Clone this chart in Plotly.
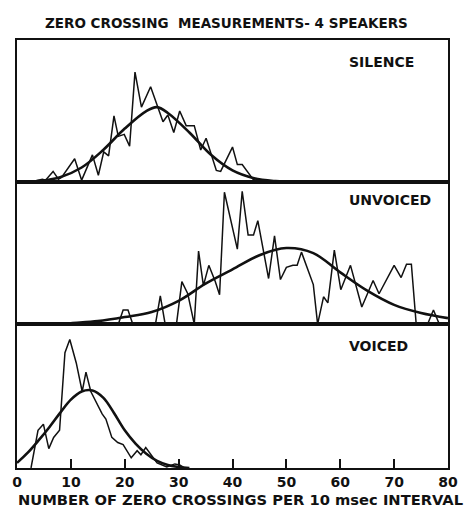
import plotly.graph_objects as go
from plotly.subplots import make_subplots

# Zero-crossing counts per 10 msec interval (relative frequency, arbitrary units)
silence_x = [2.5, 4.7, 5.3, 6.7, 7.7, 8.3, 10.7, 12.0, 14.0, 15.1, 16.1, 17.0, 18.0, 18.8,
             19.9, 20.9, 21.9, 23.1, 24.8, 27.1, 28.0, 29.1, 30.2, 31.4, 32.9, 34.1, 35.1,
             37.0, 37.8, 40.0, 40.9, 41.8, 43.8, 45.0]
silence_y = [0, 3, 2, 11, 3, 5, 24, 2, 28, 7, 31, 27, 68, 47,
             49, 37, 113, 77, 98, 62, 69, 51, 73, 58, 58, 33, 45,
             12, 11, 36, 18, 18, 3, 0]
silence_fit_x = [2, 4, 8, 12, 16, 20, 24, 26, 28, 32, 36, 40, 44, 48, 52]
silence_fit_y = [0, 1, 5, 15, 33, 55, 73, 77, 71, 51, 28, 12, 4, 1, 0]

unvoiced_x = [18.8, 19.7, 20.6, 21.5, 25.7, 26.6, 27.5, 29.6, 30.6, 31.7, 32.9, 33.7, 34.6,
              35.6, 36.8, 37.6, 38.5, 40.9, 41.8, 42.9, 43.9, 44.7, 46.7, 47.8, 48.9, 50.0,
              51.2, 52.0, 52.8, 55.0, 55.8, 56.9, 57.7, 58.9, 60.1, 61.9, 64.0, 66.1, 67.2,
              70.0, 71.3, 72.3, 73.2, 74.1, 76.2, 77.3, 78.4, 80.0]
unvoiced_y = [0, 14, 14, 0, 0, 28, 0, 0, 42, 30, 0, 72, 38,
              58, 42, 29, 130, 74, 131, 88, 88, 102, 45, 87, 44, 56,
              58, 58, 71, 39, 0, 27, 21, 73, 34, 58, 17, 43, 30,
              58, 46, 59, 59, 0, 0, 14, 0, 0]
unvoiced_fit_x = [8, 10, 15, 20, 25, 30, 35, 40, 45, 50, 55, 60, 65, 70, 75, 80]
unvoiced_fit_y = [0, 1, 3, 7, 12, 23, 40, 54, 68, 75, 70, 51, 33, 19, 11, 6]

voiced_x = [2.6, 3.9, 4.9, 5.9, 6.8, 7.9, 8.9, 9.8, 11.0, 12.1, 12.8, 13.7, 15.8, 16.5,
            17.6, 18.7, 19.7, 21.2, 22.3, 23.0, 23.9, 26.0, 27.8, 29.3, 30.2, 31.1]
voiced_y = [0, 37, 43, 19, 30, 37, 113, 126, 103, 75, 94, 75, 53, 48,
            30, 25, 23, 10, 17, 13, 20, 5, 1, 4, 3, 0]
voiced_fit_x = [0, 2, 4, 6, 8, 10, 12, 14, 16, 18, 20, 22, 24, 26, 28, 30, 32]
voiced_fit_y = [5, 15, 27, 40, 54, 67, 75, 76, 69, 54, 37, 24, 14, 7, 3, 1, 0]

panel_names = ["SILENCE", "UNVOICED", "VOICED"]
panel_tops = [146, 140, 141]
x_ticks = [0, 10, 20, 30, 40, 50, 60, 70, 80]

INK = "#111111"
FONT = "DejaVu Sans"

fig = make_subplots(rows=3, cols=1, shared_xaxes=True, vertical_spacing=0)

series = [
    (silence_x, silence_y, silence_fit_x, silence_fit_y),
    (unvoiced_x, unvoiced_y, unvoiced_fit_x, unvoiced_fit_y),
    (voiced_x, voiced_y, voiced_fit_x, voiced_fit_y),
]
for row, (jx, jy, fx, fy) in enumerate(series, start=1):
    fig.add_trace(go.Scatter(x=jx, y=jy, mode="lines",
                             line=dict(color=INK, width=1.5), showlegend=False),
                  row=row, col=1)
    fig.add_trace(go.Scatter(x=fx, y=fy, mode="lines",
                             line=dict(color=INK, width=2.6, shape="spline", smoothing=1.0),
                             showlegend=False),
                  row=row, col=1)

domains = [[0.668, 1.0], [0.336, 0.668], [0.0, 0.336]]
for row in range(1, 4):
    ax = "yaxis" if row == 1 else f"yaxis{row}"
    fig.layout[ax].update(range=[0, panel_tops[row - 1]], domain=domains[row - 1],
                          showline=True, mirror=True, linecolor=INK, linewidth=1.6,
                          showgrid=False, zeroline=False, showticklabels=False, ticks="")
    xa = "xaxis" if row == 1 else f"xaxis{row}"
    fig.layout[xa].update(range=[0, 80], showline=True, mirror=True, linecolor=INK,
                          linewidth=1.6, showgrid=False, zeroline=False)

fig.update_xaxes(row=3, col=1, tickvals=x_ticks, ticktext=[str(t) for t in x_ticks],
                 ticks="inside", ticklen=9, tickwidth=1.5, tickcolor=INK,
                 tickfont=dict(family=FONT, size=14, color=INK, weight="bold"))

for row, name in enumerate(panel_names, start=1):
    ypos = [123, 122, 120][row - 1]
    fig.add_annotation(text=name, x=61.3, y=ypos, xref=f"x{'' if row == 1 else row}",
                       yref=f"y{'' if row == 1 else row}", xanchor="left", yanchor="middle",
                       showarrow=False,
                       font=dict(family=FONT, size=14, color=INK, weight="bold"))

fig.add_annotation(text="ZERO CROSSING  MEASUREMENTS- 4 SPEAKERS", xref="paper", yref="paper",
                   x=0.485, y=1.040, xanchor="center", yanchor="middle", showarrow=False,
                   font=dict(family=FONT, size=13.5, color=INK, weight="bold"))
fig.add_annotation(text="NUMBER OF ZERO CROSSINGS PER 10 msec INTERVAL", xref="paper",
                   yref="paper", x=0.518, y=-0.073, xanchor="center", yanchor="middle",
                   showarrow=False, font=dict(family=FONT, size=14.7, color=INK, weight="bold"))

fig.update_layout(width=470, height=508, margin=dict(l=12, r=13, t=40, b=40),
                  paper_bgcolor="white", plot_bgcolor="white")

fig.write_html("out.html")
